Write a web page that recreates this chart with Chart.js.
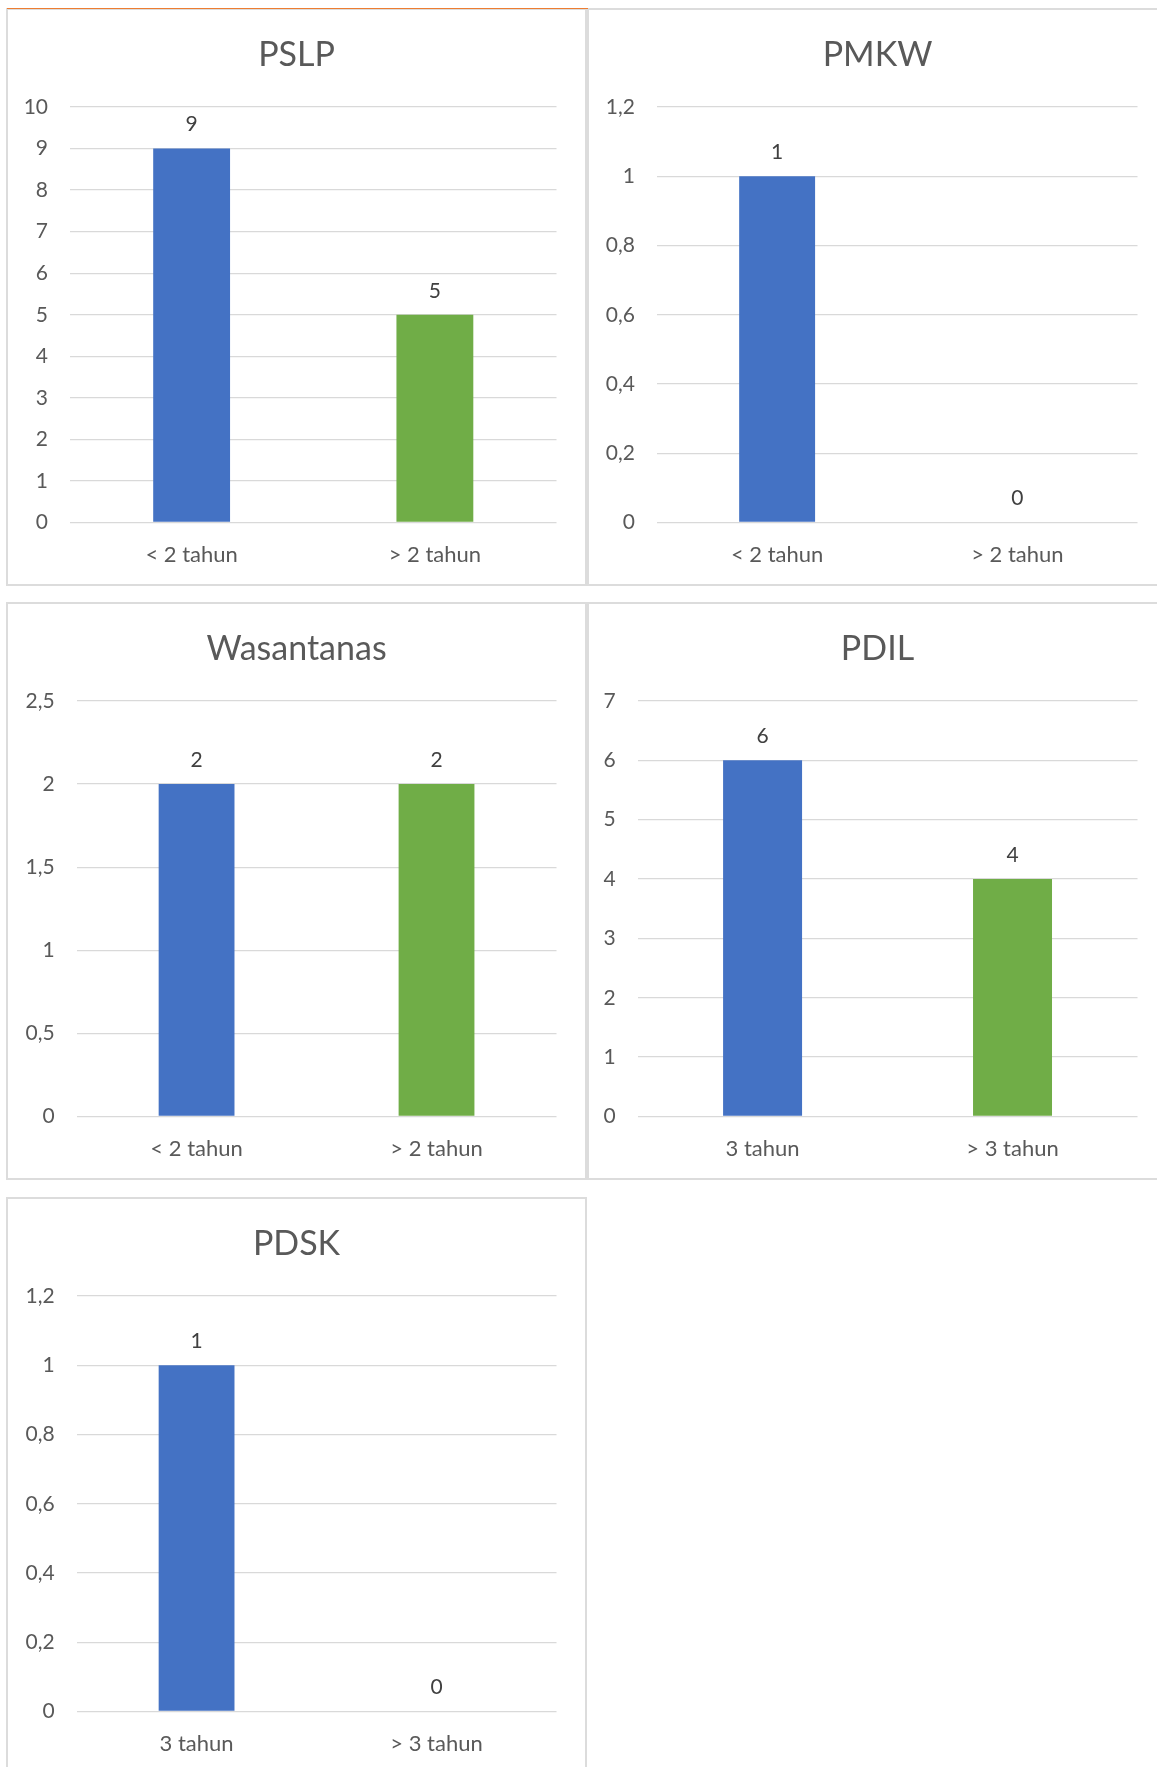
<!DOCTYPE html>
<html>
<head>
<meta charset="utf-8">
<script src="https://cdn.jsdelivr.net/npm/chart.js@4.4.1/dist/chart.umd.min.js"></script>
<style>
    body {
        margin: 0;
        background: #fff;
        width: 1157px;
        height: 1767px;
        overflow: hidden;
        position: relative;
    }
    .panel {
        position: absolute;
        border: 2px solid #dcdcdc;
        background: #fff;
        box-sizing: border-box;
    }
    .panel canvas {
        display: block;
    }
    #top-line {
        position: absolute;
        left: 7px;
        top: 8px;
        width: 581px;
        height: 1px;
        background: #ed7d31;
    }
</style>
</head>
<body>

<div class="panel" style="left:6px; top:8px; width:581px; height:578px;"><canvas id="chart-pslp"></canvas></div>
<div class="panel" style="left:587px; top:8px; width:574px; height:578px;"><canvas id="chart-pmkw"></canvas></div>
<div class="panel" style="left:6px; top:602px; width:581px; height:578px;"><canvas id="chart-wasantanas"></canvas></div>
<div class="panel" style="left:587px; top:602px; width:574px; height:578px;"><canvas id="chart-pdil"></canvas></div>
<div class="panel" style="left:6px; top:1197px; width:581px; height:600px;"><canvas id="chart-pdsk"></canvas></div>
<div id="top-line"></div>

<script>
// data
const pslpLabels = ['< 2 tahun', '> 2 tahun'];
const pslpValues = [9, 5];
const pslpTicks = {max: 10, step: 1};

const pmkwLabels = ['< 2 tahun', '> 2 tahun'];
const pmkwValues = [1, 0];
const pmkwTicks = {max: 1.2, step: 0.2};

const wasantanasLabels = ['< 2 tahun', '> 2 tahun'];
const wasantanasValues = [2, 2];
const wasantanasTicks = {max: 2.5, step: 0.5};

const pdilLabels = ['3 tahun', '> 3 tahun'];
const pdilValues = [6, 4];
const pdilTicks = {max: 7, step: 1};

const pdskLabels = ['3 tahun', '> 3 tahun'];
const pdskValues = [1, 0];
const pdskTicks = {max: 1.2, step: 0.2};

const barColors = ['#4472C4', '#70AD47'];
const FONT = 'Lato, Carlito, Calibri, sans-serif';

// value labels above each bar
const valueLabels = {
    id: 'valueLabels',
    afterDatasetsDraw(chart) {
        const c = chart.ctx;
        const meta = chart.getDatasetMeta(0);
        c.save();
        c.font = '21px ' + FONT;
        c.fillStyle = '#404040';
        c.textAlign = 'center';
        c.textBaseline = 'middle';
        meta.data.forEach((bar, i) => {
            c.fillText(String(chart.data.datasets[0].data[i]), bar.x, bar.y - 24);
        });
        c.restore();
    }
};

function comma(v) {
    return String(Number(v.toFixed(1))).replace('.', ',');
}

function makeChart(id, title, labels, values, ticks, yWidth) {
    const canvas = document.getElementById(id);
    canvas.width = 577;
    canvas.height = 574;
    canvas.style.width = '577px';
    canvas.style.height = '574px';
    return new Chart(canvas, {
        type: 'bar',
        data: {
            labels: labels,
            datasets: [{
                data: values,
                backgroundColor: barColors,
                barPercentage: 0.316,
                categoryPercentage: 1
            }]
        },
        options: {
            responsive: false,
            animation: false,
            layout: {padding: 0},
            plugins: {
                legend: {display: false},
                tooltip: {enabled: false},
                title: {
                    display: true,
                    text: title,
                    color: '#595959',
                    font: {family: FONT, size: 34, weight: 'normal', lineHeight: 1.2},
                    padding: {top: 24.6, bottom: 31.6}
                }
            },
            scales: {
                x: {
                    grid: {display: false},
                    border: {display: false},
                    ticks: {color: '#595959', font: {family: FONT, size: 22}, padding: 11},
                    afterFit: (scale) => { scale.height = 61.5; }
                },
                y: {
                    min: 0,
                    max: ticks.max,
                    grid: {color: '#d9d9d9', lineWidth: 1.3, drawTicks: false},
                    border: {display: false},
                    ticks: {
                        stepSize: ticks.step,
                        color: '#595959',
                        font: {family: FONT, size: 21},
                        padding: 22,
                        callback: (v) => comma(v)
                    },
                    afterFit: (scale) => { scale.width = yWidth; }
                },
                // empty strip on the right so the title stays centred on the panel
                spacer: {
                    position: 'right',
                    grid: {display: false},
                    border: {display: false},
                    ticks: {display: false},
                    afterFit: (scale) => { scale.width = 28.5; }
                }
            }
        },
        plugins: [valueLabels]
    });
}

makeChart('chart-pslp', 'PSLP', pslpLabels, pslpValues, pslpTicks, 62);
makeChart('chart-pmkw', 'PMKW', pmkwLabels, pmkwValues, pmkwTicks, 68);
makeChart('chart-wasantanas', 'Wasantanas', wasantanasLabels, wasantanasValues, wasantanasTicks, 68.6);
makeChart('chart-pdil', 'PDIL', pdilLabels, pdilValues, pdilTicks, 48.6);
makeChart('chart-pdsk', 'PDSK', pdskLabels, pdskValues, pdskTicks, 68.6);
</script>
</body>
</html>
